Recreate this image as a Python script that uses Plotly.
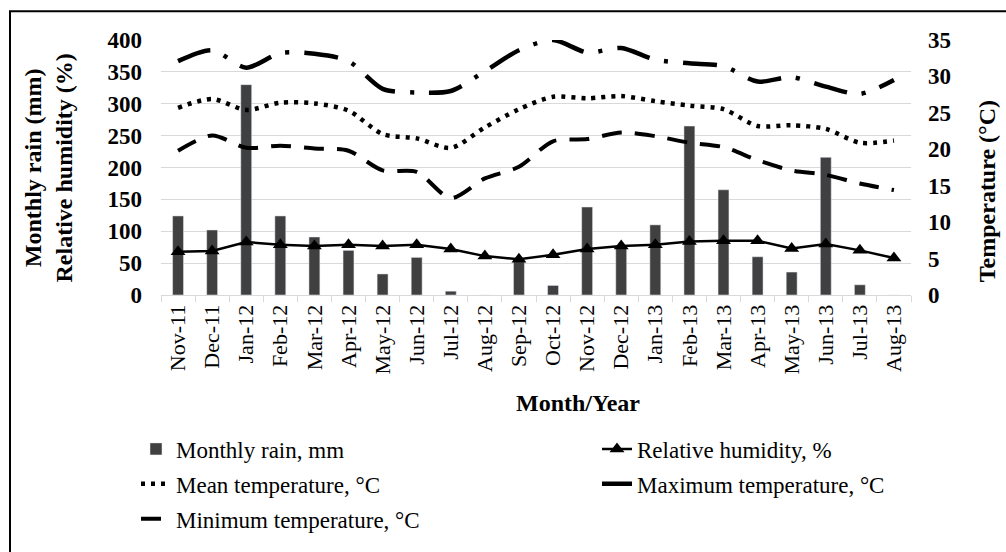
import plotly.graph_objects as go

months = ["Nov-11", "Dec-11", "Jan-12", "Feb-12", "Mar-12", "Apr-12", "May-12", "Jun-12",
          "Jul-12", "Aug-12", "Sep-12", "Oct-12", "Nov-12", "Dec-12", "Jan-13", "Feb-13",
          "Mar-13", "Apr-13", "May-13", "Jun-13", "Jul-13", "Aug-13"]
rain_mm = [124, 102, 330, 124, 91, 70, 33, 59, 6, 0, 52, 15, 138, 76, 110, 265,
           165, 60, 36, 216, 16, 0]
rel_humidity = [68, 69, 83, 79, 77, 79, 77, 79, 72, 61, 56, 63, 72, 77, 79, 84,
                85, 85, 73, 80, 70, 58]
mean_temp = [25.7, 26.9, 25.4, 26.4, 26.3, 25.3, 22.1, 21.5, 20.2, 23.0, 25.5, 27.2,
             27.0, 27.3, 26.6, 26.0, 25.5, 23.2, 23.3, 22.8, 20.9, 21.2]
max_temp = [32.1, 33.6, 31.2, 33.2, 33.1, 32.1, 28.3, 27.8, 28.0, 30.7, 33.6, 35.0,
            33.3, 33.9, 32.3, 31.8, 31.4, 29.3, 29.9, 28.6, 27.6, 29.5]
min_temp = [19.8, 21.9, 20.2, 20.5, 20.1, 19.8, 17.1, 16.9, 13.3, 16.0, 17.6, 21.1,
            21.4, 22.3, 21.8, 20.9, 20.3, 18.5, 17.1, 16.5, 15.3, 14.4]

left_ticks = [0, 50, 100, 150, 200, 250, 300, 350, 400]
right_ticks = [0, 5, 10, 15, 20, 25, 30, 35]

FONT = "Liberation Serif"

fig = go.Figure()
fig.add_trace(go.Bar(x=months, y=rain_mm, name="Monthly rain, mm", marker_color="#404040",
                     width=0.32, legend="legend", legendgroup="rain"))
fig.add_trace(go.Scatter(x=months, y=rel_humidity, name="Relative humidity, %", mode="lines+markers",
                         line=dict(color="black", width=2.5),
                         marker=dict(symbol="triangle-up", size=13, color="black"),
                         legend="legend2", legendgroup="rh"))
fig.add_trace(go.Scatter(x=months, y=mean_temp, name="Mean temperature, °C", mode="lines",
                         yaxis="y2", line=dict(color="black", width=4.5, dash="4px,6px",
                                               shape="spline", smoothing=0.8),
                         legend="legend", legendgroup="mean"))
fig.add_trace(go.Scatter(x=months, y=max_temp, name="Maximum temperature, °C", mode="lines",
                         yaxis="y2", line=dict(color="black", width=4.5, dash="34px,15px,4px,15px",
                                               shape="spline", smoothing=0.8),
                         legend="legend2", legendgroup="max"))
fig.add_trace(go.Scatter(x=months, y=min_temp, name="Minimum temperature, °C", mode="lines",
                         yaxis="y2", line=dict(color="black", width=4, dash="20px,13px",
                                               shape="spline", smoothing=0.8),
                         legend="legend", legendgroup="min"))

W, H = 1006, 552
L, R, T, B = 161, 911, 40, 298


def px(xp):
    return (xp - L) / (R - L)


def py(yp):
    return (B - yp) / (B - T)


fig.update_layout(
    width=W, height=H,
    margin=dict(l=L, r=W - R, t=T, b=H - B),
    paper_bgcolor="white", plot_bgcolor="white",
    font=dict(family=FONT, color="black"),
    showlegend=True,
    xaxis=dict(type="category", tickangle=-90, tickfont=dict(size=22, family=FONT),
               showline=True, linecolor="#d9d9d9", linewidth=1,
               ticks="outside", ticklen=6, tickcolor="#d9d9d9", tickson="boundaries",
               showgrid=False, range=[-0.5, len(months) - 0.5]),
    yaxis=dict(range=[0, 400], tickvals=left_ticks, showgrid=True, gridcolor="#d9d9d9",
               gridwidth=1, zeroline=False, showline=False,
               tickfont=dict(size=23, family=FONT, weight="bold"), ticklabelstandoff=18),
    yaxis2=dict(range=[0, 35], tickvals=right_ticks, overlaying="y", side="right",
                showgrid=False, zeroline=False, showline=False,
                tickfont=dict(size=23, family=FONT, weight="bold"), ticklabelstandoff=16),
    legend=dict(x=px(136), y=py(432), xanchor="left", yanchor="top", orientation="v",
                font=dict(size=23, family=FONT), bgcolor="rgba(0,0,0,0)",
                tracegroupgap=2, traceorder="grouped"),
    legend2=dict(x=px(597), y=py(432), xanchor="left", yanchor="top", orientation="v",
                 font=dict(size=23, family=FONT), bgcolor="rgba(0,0,0,0)",
                 tracegroupgap=2, traceorder="grouped"),
)

fig.add_annotation(x=px(48), y=py(170), xref="paper", yref="paper", showarrow=False,
                   text="<b>Monthly rain (mm)<br>Relative humidity (%)</b>", textangle=-90,
                   font=dict(size=24, family=FONT), xanchor="center", yanchor="middle")
fig.add_annotation(x=px(987), y=py(193), xref="paper", yref="paper", showarrow=False,
                   text="<b>Temperature (°C)</b>", textangle=-90,
                   font=dict(size=24, family=FONT), xanchor="center", yanchor="middle")
fig.add_annotation(x=px(578), y=py(407), xref="paper", yref="paper", showarrow=False,
                   text="<b>Month/Year</b>", font=dict(size=24, family=FONT),
                   xanchor="center", yanchor="middle")

fig.add_shape(type="rect", xref="paper", yref="paper", x0=px(10), x1=px(1012),
              y0=py(560), y1=py(11), line=dict(color="black", width=2), layer="above")

fig.write_html("out.html", post_script="document.body.style.margin='0';",
               config={"displayModeBar": False})
